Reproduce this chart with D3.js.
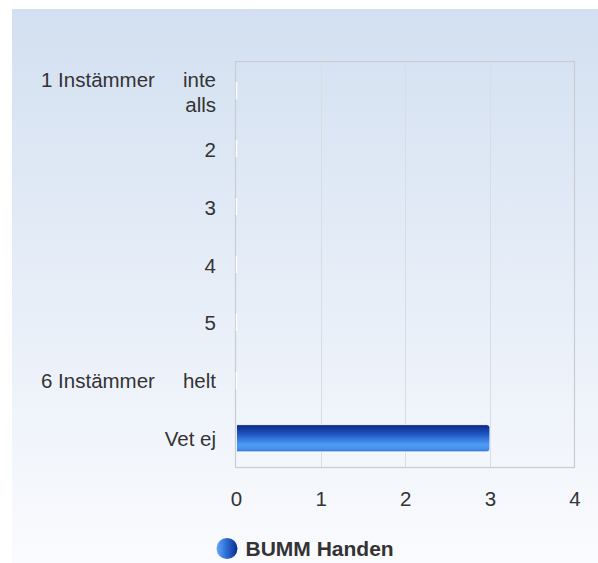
<!DOCTYPE html>
<html>
<head>
<meta charset="utf-8">
<script src="https://cdn.jsdelivr.net/npm/d3@7"></script>
<style>
  html, body { margin: 0; padding: 0; background: #ffffff; }
  svg { display: block; }
</style>
</head>
<body>
<svg id="chart" width="598" height="563"></svg>
<script>
// Survey answers for one question, one series
const categories = [
  "1 Instämmer inte alls",
  "2",
  "3",
  "4",
  "5",
  "6 Instämmer helt",
  "Vet ej"
];
const seriesName = "BUMM Handen";
const values = [0, 0, 0, 0, 0, 0, 3];
const xTicks = [0, 1, 2, 3, 4];

// How each category label is laid out: lines, each line split into a left and right part
const labelLines = [
  [["1 Instämmer", "inte"], ["alls"]],
  [["2"]],
  [["3"]],
  [["4"]],
  [["5"]],
  [["6 Instämmer", "helt"]],
  [["Vet ej"]]
];

const svg = d3.select("#chart");
const W = 598, H = 563;
const font = "'Liberation Sans', Arial, sans-serif";
const plot = { left: 236, right: 574.5, top: 61.5, bottom: 467.5 };

const defs = svg.append("defs");

const bg = defs.append("linearGradient").attr("id", "bgGrad")
  .attr("x1", 0).attr("y1", 0).attr("x2", 0).attr("y2", 1);
bg.append("stop").attr("offset", "0%").attr("stop-color", "#d3e0f1");
bg.append("stop").attr("offset", "100%").attr("stop-color", "#fafbfe");

const barGrad = defs.append("linearGradient").attr("id", "barGrad")
  .attr("x1", 0).attr("y1", 0).attr("x2", 0).attr("y2", 1);
barGrad.append("stop").attr("offset", "0%").attr("stop-color", "#0a2783");
barGrad.append("stop").attr("offset", "35%").attr("stop-color", "#1f55c2");
barGrad.append("stop").attr("offset", "72%").attr("stop-color", "#4c9bf3");
barGrad.append("stop").attr("offset", "90%").attr("stop-color", "#4790ee");
barGrad.append("stop").attr("offset", "100%").attr("stop-color", "#2c6dd2");

const dotGrad = defs.append("linearGradient").attr("id", "dotGrad")
  .attr("x1", 0).attr("y1", 0).attr("x2", 1).attr("y2", 0);
dotGrad.append("stop").attr("offset", "0%").attr("stop-color", "#63a8f5");
dotGrad.append("stop").attr("offset", "45%").attr("stop-color", "#2f6fd8");
dotGrad.append("stop").attr("offset", "100%").attr("stop-color", "#0b2b8c");

// Background panel
svg.append("rect").attr("x", 12).attr("y", 9)
  .attr("width", W - 12).attr("height", H - 9)
  .attr("fill", "url(#bgGrad)");

const x = d3.scaleLinear().domain([0, 4]).range([plot.left, plot.right]);
const y = d3.scaleBand().domain(categories).range([plot.top, plot.bottom])
  .paddingInner(0.53).paddingOuter(0.27);

// Vertical grid lines
svg.append("g").selectAll("line").data(xTicks.slice(1, -1)).join("line")
  .attr("x1", d => Math.round(x(d)) + 0.5).attr("x2", d => Math.round(x(d)) + 0.5)
  .attr("y1", plot.top).attr("y2", plot.bottom)
  .attr("stroke", "#d9dde3").attr("stroke-width", 1);

// Plot frame
svg.append("rect")
  .attr("x", plot.left - 0.5).attr("y", plot.top)
  .attr("width", plot.right - plot.left + 0.5).attr("height", plot.bottom - plot.top)
  .attr("fill", "none").attr("stroke", "#c9ccd1").attr("stroke-width", 1.2);

// Bars with rounded right end
const r = 3;
function barPath(v, cat) {
  const x0 = x(0) + 0.5, x1 = x(v), y0 = y(cat), h = y.bandwidth();
  if (x1 - x0 < r) {
    return `M${x0},${y0 + 5}L${x0},${y0 + h - 5}`;
  }
  return `M${x0},${y0}H${x1 - r}Q${x1},${y0} ${x1},${y0 + r}V${y0 + h - r}Q${x1},${y0 + h} ${x1 - r},${y0 + h}H${x0}Z`;
}
svg.append("g").selectAll("path").data(categories.map((c, i) => ({ c, v: values[i] }))).join("path")
  .attr("d", d => barPath(d.v, d.c))
  .attr("fill", d => d.v > 0 ? "url(#barGrad)" : "none")
  .attr("stroke", "#ffffff").attr("stroke-width", d => d.v > 0 ? 0.8 : 1.5);

// Category labels
const labelLeft = 41, labelRight = 216, lineH = 25, fs = 20.5;
const lab = svg.append("g").attr("font-family", font).attr("font-size", fs).attr("fill", "#333333");
categories.forEach((c, i) => {
  const lines = labelLines[i];
  const cy = y(c) + y.bandwidth() / 2;
  const firstBase = cy + 8 - (lines.length - 1) * 12;
  lines.forEach((parts, j) => {
    const by = firstBase + j * lineH;
    if (parts.length === 2) {
      lab.append("text").attr("x", labelLeft).attr("y", by).attr("text-anchor", "start").text(parts[0]);
      lab.append("text").attr("x", labelRight).attr("y", by).attr("text-anchor", "end").text(parts[1]);
    } else {
      lab.append("text").attr("x", labelRight).attr("y", by).attr("text-anchor", "end").text(parts[0]);
    }
  });
});

// X axis tick labels
const xAxis = d3.axisBottom(x).tickValues(xTicks).tickSize(0).tickPadding(0).tickFormat(d3.format("d"));
const ax = svg.append("g").attr("transform", `translate(0, 491)`).call(xAxis);
ax.select(".domain").remove();
ax.selectAll("text").attr("font-family", font).attr("font-size", fs).attr("fill", "#333333").attr("dy", "0.75em");

// Legend
const leg = svg.append("g");
leg.append("circle").attr("cx", 227).attr("cy", 548.5).attr("r", 10.5).attr("fill", "url(#dotGrad)");
leg.append("text").attr("x", 245.5).attr("y", 556).attr("font-family", font)
  .attr("font-size", 21).attr("font-weight", "bold").attr("fill", "#333333").text(seriesName);
</script>
</body>
</html>
